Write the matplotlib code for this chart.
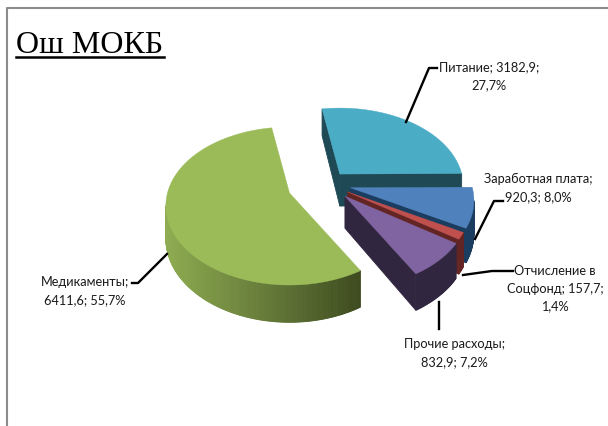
import numpy as np
import matplotlib
matplotlib.use("Agg")
import matplotlib.pyplot as plt
from matplotlib.colors import to_rgb

title = "Ош МОКБ"
names = ["Питание", "Заработная плата", "Отчисление в Соцфонд", "Прочие расходы", "Медикаменты"]
values = [3182.9, 920.3, 157.7, 832.9, 6411.6]

# where the label text breaks, {v} value, {p} share
label_forms = [
    "Питание; {v};\n{p}",
    "Заработная плата;\n{v}; {p}",
    "Отчисление в\nСоцфонд; {v};\n{p}",
    "Прочие расходы;\n{v}; {p}",
    "Медикаменты;\n{v}; {p}",
]
label_pos = [(489, 76), (538, 188), (555, 289), (454, 353), (85, 291)]
leaders = [
    [(406, 123), (429, 69), (437, 69)],
    [(475, 240), (494, 202), (503, 202)],
    [(463, 276), (492, 272), (513, 272)],
    [(439, 303), (439, 330)],
    [(167, 255), (138, 284), (132, 284)],
]

top_colors = ["#4BACC6", "#4F81BD", "#C0504D", "#8064A2", "#9BBB59"]
side_colors = ["#1F4A55", "#1B3D60", "#632523", "#31263F", None]
green_side = ("#8FAD52", "#3D4B1F")

start_angle = -10.0
explode = [20, 24, 24, 26, 40]
center = (327, 185)
rx, ry, persp, depth = 122.0, 79.0, 0.165, 32.0


def project(apex, theta):
    # theta in degrees clockwise from the top of the disc
    u = np.sin(np.radians(theta))
    v = np.cos(np.radians(theta))
    f = 1 - persp * v
    return apex[0] + rx * u * f, apex[1] - ry * v * f, depth * f


def draw_slice(ax, apex, a0, a1, top, side):
    thetas = np.linspace(a0, a1, max(int(a1 - a0) * 2, 6))
    xs, ys, ds = project(apex, thetas)
    px = np.r_[apex[0], xs, apex[0]]
    py = np.r_[apex[1], ys, apex[1]]
    pd = np.r_[depth, ds, depth]
    # outline runs clockwise, so edges going left are the ones facing down
    for i in range(len(px) - 1):
        if px[i + 1] >= px[i]:
            continue
        quad_x = [px[i], px[i + 1], px[i + 1], px[i]]
        quad_y = [py[i], py[i + 1], py[i + 1] + pd[i + 1], py[i] + pd[i]]
        if side is None:
            t = np.clip((px[i] - 165) / 195.0, 0, 1)
            c = np.array(to_rgb(green_side[0])) * (1 - t) + np.array(to_rgb(green_side[1])) * t
        else:
            c = side
        ax.fill(quad_x, quad_y, color=c, lw=0.6, zorder=2)
    ax.fill(px, py, color=top, lw=0.3, zorder=2)


fig = plt.figure(figsize=(6.08, 4.27), dpi=100)
ax = fig.add_axes([0, 0, 1, 1])
ax.set_xlim(0, 608)
ax.set_ylim(427, 0)
ax.axis("off")

# outer frame of the chart area
ax.plot([6.5, 6.5, 608], [427, 8.5, 8.5], color="#8C8C8C", lw=1.5, zorder=1)

total = sum(values)
angle = start_angle
for i in range(len(values)):
    span = values[i] / total * 360
    mid = np.radians(angle + span / 2)
    apex = (center[0] + explode[i] * np.sin(mid),
            center[1] - explode[i] * np.cos(mid) * ry / rx)
    draw_slice(ax, apex, angle, angle + span, top_colors[i], side_colors[i])
    angle += span

for i in range(len(values)):
    v = f"{values[i]:.1f}".replace(".", ",")
    p = f"{values[i] / total * 100:.1f}%".replace(".", ",")
    x, y = label_pos[i]
    ax.text(x, y, label_forms[i].format(v=v, p=p), ha="center", va="center",
            family="Lato", fontsize=9.2, color="#1A1A1A", linespacing=1.55, zorder=4)
    lx, ly = zip(*leaders[i])
    ax.plot(lx, ly, color="black", lw=1.7, zorder=3)

ax.text(16, 53, title, family="Liberation Serif", fontsize=23, color="black", va="baseline")
ax.plot([16, 164], [58, 58], color="black", lw=1.8)

fig.savefig("out.png", dpi=100)
